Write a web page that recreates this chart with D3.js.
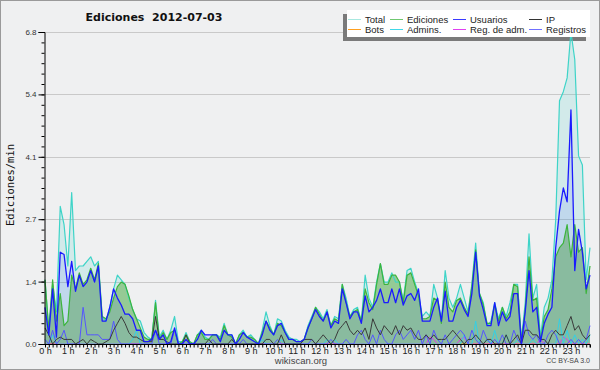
<!DOCTYPE html>
<html><head><meta charset="utf-8">
<script src="https://cdn.jsdelivr.net/npm/d3@7"></script>
<style>body{margin:0;background:#fff}svg{display:block}</style>
</head><body>
<svg id="c" width="600" height="370"></svg>
<script>
// ---- data (edits per minute, 10-minute steps) ----
const minutes = d3.range(0, 1440, 10);
const hourLabels = ["0 h","1 h","2 h","3 h","4 h","5 h","6 h","7 h","8 h","9 h","10 h","11 h","12 h","13 h","14 h","15 h","16 h","17 h","18 h","19 h","20 h","21 h","22 h","23 h"];
const yTickValues = [0, 1.36, 2.72, 4.08, 5.44, 6.8];
const yTickLabels = ["0.0","1.4","2.7","4.1","5.4","6.8"];
const legendNames = ["Total","Ediciones","Usuarios","IP","Bots","Admins.","Reg. de adm.","Registros"];

const total = [
1.4,0.3,1.3,0.7,3.0,2.6, 1.7,3.3,1.6,1.7,1.7,1.8, 1.9,1.7,1.8,0.6,0.5,0.8, 1.2,1.5,1.4,1.3,1.0,0.75,
0.55,0.5,0.25,0.15,0.1,0.95, 0.15,0.3,0.1,0.3,0.6,0.05, 0.05,0.25,0.05,0.0,0.2,0.3, 0.15,0.1,0.2,0.2,0.15,0.45,
0.2,0.2,0.0,0.2,0.3,0.15, 0.2,0.1,0.0,0.3,0.7,0.4, 0.2,0.55,0.5,0.3,0.15,0.1, 0.1,0.05,0.1,0.4,0.6,0.8,
0.7,0.55,0.75,0.4,0.6,0.55, 1.3,1.0,0.6,0.75,0.8,0.5, 1.5,1.0,0.8,1.35,1.75,1.35, 1.35,1.55,1.35,1.35,0.95,1.6,
1.65,1.35,1.1,0.6,0.7,0.6, 1.3,1.0,0.5,1.6,1.0,0.8, 1.0,1.3,1.0,0.7,1.3,2.2, 1.1,0.9,0.4,0.5,0.9,0.55,
0.8,0.6,0.9,1.3,1.3,0.1, 0.9,2.4,1.0,1.3,0.15,0.8, 1.0,1.4,2.7,5.3,5.5,5.8, 6.8,6.2,4.1,3.9,1.4,2.1];

const ediciones = [
1.4,0.3,1.4,0.5,1.1,0.4, 0.5,1.5,1.2,1.55,1.3,1.4, 1.65,1.4,1.75,0.6,0.55,0.7, 1.0,1.25,1.35,1.3,1.05,0.75,
0.55,0.35,0.15,0.1,0.1,0.9, 0.1,0.25,0.1,0.25,0.3,0.0, 0.05,0.2,0.05,0.0,0.2,0.25, 0.1,0.1,0.2,0.2,0.1,0.4,
0.2,0.15,0.0,0.2,0.25,0.15, 0.15,0.1,0.0,0.25,0.5,0.35, 0.2,0.45,0.4,0.25,0.1,0.1, 0.05,0.05,0.1,0.35,0.55,0.8,
0.65,0.5,0.7,0.4,0.55,0.5, 1.3,0.9,0.6,0.7,0.75,0.5, 1.2,0.9,0.75,1.3,1.75,1.3, 1.3,1.5,1.5,1.35,0.9,1.5,
1.55,1.3,1.05,0.55,0.55,0.6, 1.0,0.95,0.45,1.35,0.8,0.7, 0.95,1.0,0.8,0.65,1.25,2.05, 1.1,0.85,0.45,0.45,0.85,0.5,
0.8,0.55,0.7,1.3,1.25,0.05, 0.75,1.9,0.95,1.0,0.05,0.6, 0.75,1.2,1.9,2.1,2.2,2.6, 1.9,2.6,2.0,2.1,1.1,1.7];

const usuarios = [
0.8,0.2,1.2,0.15,2.0,1.95, 1.25,1.8,1.15,1.5,1.25,1.35, 1.6,1.35,1.7,0.5,0.5,0.8, 1.2,1.0,0.85,0.65,0.65,0.55,
0.3,0.3,0.05,0.05,0.1,0.3, 0.1,0.2,0.0,0.05,0.35,0.0, 0.0,0.1,0.0,0.0,0.1,0.3, 0.2,0.2,0.2,0.2,0.05,0.3,
0.2,0.2,0.0,0.1,0.25,0.15, 0.1,0.05,0.0,0.2,0.5,0.3, 0.2,0.4,0.45,0.25,0.1,0.1, 0.05,0.05,0.1,0.35,0.55,0.75,
0.6,0.5,0.7,0.35,0.5,0.45, 1.2,0.9,0.55,0.7,0.7,0.45, 1.05,0.7,0.8,0.95,1.2,0.9, 0.9,1.2,0.9,1.2,0.85,1.05,
1.1,0.95,1.2,0.5,0.5,0.5, 0.8,1.0,0.5,1.15,0.5,0.5, 0.8,0.95,0.75,0.6,1.1,2.0, 1.05,0.75,0.4,0.4,0.9,0.4,
0.7,0.5,0.6,1.1,1.1,0.0, 0.7,1.6,0.7,0.8,0.05,0.45, 0.65,0.8,2.1,2.9,3.4,3.1, 5.1,1.6,2.5,2.0,1.2,1.5];

const ip = [
0.35,0.2,0.0,0.1,0.15,0.1, 0.1,0.1,0.0,0.05,0.1,0.0, 0.1,0.05,0.0,0.0,0.05,0.1, 0.3,0.45,0.6,0.45,0.25,0.15,
0.15,0.1,0.05,0.05,0.05,0.6, 0.1,0.1,0.05,0.0,0.0,0.0, 0.0,0.2,0.0,0.0,0.0,0.0, 0.0,0.1,0.0,0.0,0.0,0.0,
0.0,0.1,0.0,0.0,0.0,0.0, 0.0,0.0,0.0,0.0,0.1,0.1, 0.0,0.0,0.2,0.0,0.0,0.0, 0.0,0.0,0.1,0.1,0.1,0.0,
0.1,0.2,0.1,0.0,0.1,0.3, 0.4,0.5,0.3,0.2,0.3,0.2, 0.35,0.1,0.55,0.35,0.2,0.4, 0.3,0.2,0.4,0.2,0.4,0.3,
0.35,0.2,0.1,0.1,0.2,0.1, 0.2,0.1,0.1,0.1,0.2,0.3, 0.2,0.1,0.0,0.1,0.1,0.2, 0.1,0.0,0.1,0.1,0.0,0.0,
0.0,0.2,0.0,0.1,0.2,0.0, 0.3,0.3,0.2,0.2,0.1,0.1, 0.0,0.2,0.3,0.2,0.2,0.4, 0.6,0.3,0.4,0.2,0.1,0.2];

const bots = [
0,0,0,0,0,0, 0,0,0,0,0,0, 0,0,0,0,0,0, 0,0,0,0,0,0, 0,0,0,0,0,0, 0,0,0,0,0,0, 0,0,0,0,0,0, 0,0,0,0,0,0,
0,0,0,0,0,0, 0,0,0,0,0,0, 0,0,0,0,0,0, 0,0,0,0,0,0, 0,0,0,0,0,0, 0,0,0,0,0,0, 0,0,0,0,0,0, 0,0,0,0,0,0,
0,0,0,0,0,0, 0,0,0,0,0,0, 0,0,0,0,0,0, 0,0,0,0,0,0, 0,0,0,0,0,0, 0,0,0,0,0,0, 0,0,0,0,0,0, 0,0,0,0,0,0];

const admins = [
0.0,0.0,0.2,0.0,0.0,0.0, 0.0,0.0,0.0,0.0,0.0,0.0, 0.0,0.0,0.0,0.0,0.0,0.0, 0.0,0.0,0.0,0.0,0.0,0.1,
0.3,0.0,0.0,0.0,0.0,0.0, 0.0,0.0,0.0,0.0,0.0,0.0, 0.0,0.0,0.0,0.0,0.0,0.0, 0.0,0.0,0.0,0.0,0.0,0.0,
0.0,0.0,0.0,0.0,0.0,0.0, 0.0,0.0,0.0,0.1,0.0,0.0, 0.0,0.0,0.1,0.0,0.0,0.0, 0.0,0.0,0.0,0.0,0.0,0.0,
0.0,0.0,0.1,0.0,0.1,0.0, 0.0,0.0,0.0,0.0,0.0,0.0, 0.0,0.0,0.0,0.0,0.0,0.0, 0.0,0.0,0.0,0.0,0.0,0.0,
0.0,0.0,0.0,0.0,0.0,0.0, 0.0,0.0,0.0,0.0,0.0,0.0, 0.0,0.0,0.2,0.0,0.0,0.5, 0.0,0.0,0.1,0.0,0.3,0.0,
0.0,0.2,0.0,0.0,0.1,0.0, 0.0,0.0,0.1,0.0,0.0,0.0, 0.0,0.0,0.0,0.55,0.0,0.3, 0.0,0.2,0.0,0.1,0.0,0.2];

const regAdm = [
0,0,0,0,0,0, 0,0,0,0,0,0, 0,0,0,0,0,0, 0,0,0,0,0,0, 0,0,0,0,0,0, 0,0,0,0,0,0, 0,0,0,0,0,0, 0,0,0,0,0,0,
0,0,0,0,0,0, 0,0,0,0,0,0, 0,0,0,0,0,0, 0,0,0,0,0,0, 0,0,0,0,0,0, 0,0,0,0,0,0, 0,0,0,0,0,0, 0,0,0,0,0,0,
0,0,0,0,0,0.15, 0.1,0,0,0,0,0, 0,0.1,0.15,0,0,0, 0,0,0,0,0,0, 0,0,0,0,0,0, 0,0,0,0,0.1,0, 0,0,0,0,0.15,0.1, 0,0,0,0,0,0];

const registros = [
0.1,0.0,0.3,0.0,0.1,0.3, 0.0,0.0,0.0,0.0,0.8,0.2, 0.2,0.2,0.2,0.1,0.1,0.1, 0.5,0.1,0.0,0.0,0.0,0.0,
0.0,0.0,0.0,0.0,0.0,0.3, 0.0,0.0,0.0,0.0,0.3,0.0, 0.0,0.0,0.0,0.0,0.0,0.0, 0.0,0.0,0.1,0.0,0.0,0.0,
0.0,0.0,0.0,0.0,0.1,0.0, 0.0,0.0,0.0,0.0,0.0,0.0, 0.0,0.1,0.0,0.0,0.0,0.0, 0.0,0.0,0.0,0.0,0.1,0.0,
0.0,0.0,0.0,0.1,0.0,0.0, 0.0,0.1,0.0,0.0,0.2,0.3, 0.1,0.0,0.2,0.0,0.3,0.1, 0.0,0.0,0.2,0.3,0.1,0.2,
0.3,0.1,0.3,0.0,0.2,0.0, 0.3,0.1,0.0,0.2,0.0,0.1, 0.2,0.3,0.2,0.0,0.3,0.1, 0.0,0.3,0.1,0.0,0.1,0.0,
0.2,0.0,0.0,0.3,0.1,0.0, 0.5,0.2,0.1,0.2,0.0,0.0, 0.2,0.3,0.2,0.0,0.0,0.0, 0.1,0.0,0.1,0.0,0.1,0.4];

// ---- drawing ----
const svg = d3.select("#c");
const W = 600, H = 370;
const x = d3.scaleLinear().domain([0, 1430]).range([45, 590]);
const y = d3.scaleLinear().domain([0, 6.8]).range([344, 32]);

svg.append("rect").attr("x",0.5).attr("y",0.5).attr("width",W-1).attr("height",H-1)
  .attr("fill","#eff0f1").attr("stroke","#9a9a9a");

// gridlines
svg.append("g").selectAll("line").data(yTickValues.slice(1)).join("line")
  .attr("x1", x(0)).attr("x2", x(1430))
  .attr("y1", d => Math.round(y(d)) + 0.5).attr("y2", d => Math.round(y(d)) + 0.5)
  .attr("stroke", "#c9c9c9").attr("stroke-width", 1);

// legend shadow (under the series)
svg.append("rect").attr("x",343).attr("y",14).attr("width",243).attr("height",27).attr("fill","#7a7a7a");

const area = v => d3.area().x((d,i) => x(minutes[i])).y0(y(0)).y1(d => y(d))(v);
const line = v => d3.line().x((d,i) => x(minutes[i])).y(d => y(d))(v);

svg.append("path").attr("d", area(total)).attr("fill", "rgba(64,208,200,0.16)");
svg.append("path").attr("d", area(ediciones)).attr("fill", "#95ca95");
svg.append("path").attr("d", area(usuarios)).attr("fill", "rgba(40,60,255,0.10)");

const lineSeries = [
  [total, "#3ed4c8", 1.2],
  [ediciones, "#3cb43c", 1.2],
  [bots, "#ffa020", 1],
  [regAdm, "#e040e0", 1],
  [admins, "#33d0e6", 1],
  [registros, "#5555ff", 1],
  [ip, "#3a3a3a", 1],
  [usuarios, "#1a1aff", 1.3]
];
lineSeries.forEach(([v, c, w]) => {
  svg.append("path").attr("d", line(v)).attr("fill","none").attr("stroke", c)
    .attr("stroke-width", w).attr("stroke-linejoin","round");
});

// y axis
const yAxis = svg.append("g").attr("transform","translate(44.5,0)")
  .call(d3.axisLeft(y).tickValues(yTickValues).tickFormat((d,i) => yTickLabels[i]).tickSize(6).tickPadding(2));
const yMinor = svg.append("g").attr("transform","translate(44.5,0)")
  .call(d3.axisLeft(y).tickValues(d3.range(0, 31).map(k => k * 6.8 / 30)).tickFormat("").tickSize(3));
yMinor.select(".domain").remove();
[yAxis, yMinor].forEach(g => { g.selectAll("line").attr("stroke","#000"); g.selectAll(".domain").attr("stroke","#000"); });
yAxis.selectAll("text").attr("font-family","Liberation Sans, Arial, sans-serif").attr("font-size","8px").attr("fill","#333");

// x axis
const xAxis = svg.append("g").attr("transform","translate(0,344.5)")
  .call(d3.axisBottom(x).tickValues(minutes).tickFormat("").tickSize(3));
xAxis.selectAll("line").attr("stroke","#000");
xAxis.select(".domain").attr("stroke","#000").attr("d", `M${x(0)},0.5V0H${x(1430)}V0.5`);
svg.append("line").attr("x1", x(1430)).attr("x2", x(1430)).attr("y1", 344.5).attr("y2", 347.5).attr("stroke","#000");
const xLab = svg.append("g").attr("transform","translate(0,344.5)")
  .call(d3.axisBottom(x).tickValues(hourLabels.map((h,i) => i*60)).tickFormat((d,i) => hourLabels[i]).tickSize(0).tickPadding(3));
xLab.select(".domain").remove();
xLab.selectAll("text").attr("font-family","Liberation Sans, Arial, sans-serif").attr("font-size","9px").attr("fill","#222");

// titles
svg.append("text").attr("x",154).attr("y",21).attr("text-anchor","middle")
  .attr("font-family","DejaVu Sans, sans-serif").attr("font-weight","bold").attr("font-size","11px").attr("fill","#111")
  .style("white-space","pre")
  .text("Ediciones  2012-07-03");
svg.append("text").attr("transform","translate(14,185) rotate(-90)").attr("text-anchor","middle")
  .attr("font-family","DejaVu Sans Mono, monospace").attr("font-size","10.5px").attr("fill","#111")
  .text("Ediciones/min");
svg.append("text").attr("x",301).attr("y",364).attr("text-anchor","middle")
  .attr("font-family","Liberation Sans, Arial, sans-serif").attr("font-size","9.5px").attr("fill","#444")
  .text("wikiscan.org");
svg.append("text").attr("x",590).attr("y",363).attr("text-anchor","end")
  .attr("font-family","Liberation Sans, Arial, sans-serif").attr("font-size","7px").attr("fill","#444")
  .text("CC BY-SA 3.0");

// legend
svg.append("rect").attr("x",347).attr("y",10).attr("width",243).attr("height",27).attr("fill","#fff");
const legendColors = ["#a8e8e0","#70c870","#3a3aff","#333333","#ffa020","#40d8e8","#e040f0","#7070ff"];
const colX = [348, 390, 453, 529];
const rowY = [19.5, 29.5];
legendNames.forEach((n, k) => {
  const cx = colX[k % 4], cy = rowY[Math.floor(k / 4)];
  svg.append("line").attr("x1", cx).attr("x2", cx + 13).attr("y1", cy).attr("y2", cy)
    .attr("stroke", legendColors[k]).attr("stroke-width", 1);
  svg.append("text").attr("x", cx + 17).attr("y", cy + 3.5)
    .attr("font-family","Liberation Sans, Arial, sans-serif").attr("font-size","9.5px").attr("fill","#222")
    .text(n);
});
</script>
</body></html>
